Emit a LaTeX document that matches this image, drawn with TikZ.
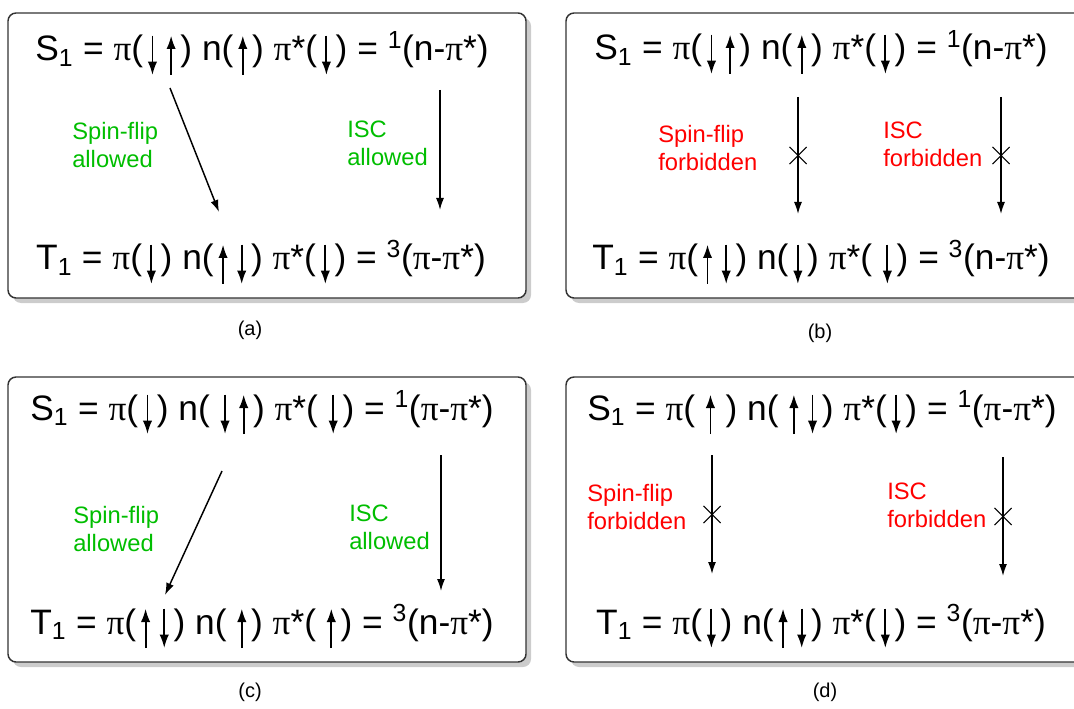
\documentclass[tikz,border=0pt]{standalone}
\usepackage{fontspec}
\setmainfont{Liberation Sans}
\newfontfamily\grk{Liberation Serif}
\usetikzlibrary{arrows.meta,shapes.misc,calc}
\definecolor{okgreen}{RGB}{0,190,0}
\definecolor{nored}{RGB}{255,0,0}
\tikzset{spin/.style={line width=1.4pt,-{Latex[length=10pt,width=7pt]}}}
\newcommand{\spinup}{\hspace{3.5pt}\tikz[baseline=0pt,x=1pt,y=1pt]\draw[spin] (0,-10.5) -- (0,19);\hspace{3.5pt}}
\newcommand{\spindn}{\hspace{3.5pt}\tikz[baseline=0pt,x=1pt,y=1pt]\draw[spin] (0,19) -- (0,-10.5);\hspace{3.5pt}}
\newcommand{\pii}{{\grk π}}
\begin{document}
\begin{tikzpicture}[x=0.75pt,y=-0.75pt,
	panel/.style={draw=black!80,line width=1.1pt,fill=white,rounded corners=6pt},
	shade/.style={fill=black!20,rounded corners=6pt},
	state/.style={anchor=base,inner sep=0pt,font=\fontsize{26.5}{30}\selectfont},
	note/.style={anchor=west,align=left,inner sep=0pt,font=\fontsize{17.8}{21}\selectfont},
	allowed/.style={note,text=okgreen},
	forbidden/.style={note,text=nored},
	trans/.style={line width=1.1pt,-{Latex[length=9pt,width=6pt]}},
	nogo/.style={cross out,draw,line width=0.8pt,minimum size=12pt,inner sep=0pt},
	tag/.style={font=\fontsize{15}{18}\selectfont}]
	\clip (0,0) rectangle (1074,709);
	% four panels with shadow
	\foreach \x/\y in {8/13,566/13,8/377,566/377}{
		\fill[shade] (\x+5,\y+5) rectangle ++(518,285);
		\draw[panel] (\x,\y) rectangle ++(518,285);}
	% (a)
	\node[state] (sa) at (262,61) {S\textsubscript{1} = \pii(\spindn\spinup) n(\spinup) \pii*(\spindn) = \textsuperscript{1}(n-\pii*)};
	\node[state] (ta) at (261,270) {T\textsubscript{1} = \pii(\spindn) n(\spinup\spindn) \pii*(\spindn) = \textsuperscript{3}(\pii-\pii*)};
	\node[allowed] (fa) at (72,145) {Spin-flip\\allowed};
	\node[allowed] (ia) at (347,143) {ISC\\allowed};
	% (b)
	\node[state] (sb) at (821,60) {S\textsubscript{1} = \pii(\spindn\spinup) n(\spinup) \pii*(\spindn) = \textsuperscript{1}(n-\pii*)};
	\node[state] (tb) at (821,270) {T\textsubscript{1} = \pii(\spinup\spindn) n(\spindn) \pii*(\,\spindn) = \textsuperscript{3}(n-\pii*)};
	\node[forbidden] (fb) at (658,148) {Spin-flip\\forbidden};
	\node[forbidden] (ib) at (883,144) {ISC\\forbidden};
	% (c)
	\node[state] (sc) at (262,420) {S\textsubscript{1} = \pii(\spindn) n(\,\spindn\spinup) \pii*(\,\spindn) = \textsuperscript{1}(\pii-\pii*)};
	\node[state] (tc) at (262,634) {T\textsubscript{1} = \pii(\spinup\spindn) n(\,\spinup) \pii*(\,\spinup) = \textsuperscript{3}(n-\pii*)};
	\node[allowed] (fc) at (73,529) {Spin-flip\\allowed};
	\node[allowed] (ic) at (349,527) {ISC\\allowed};
	% (d)
	\node[state] (sd) at (822,420) {S\textsubscript{1} = \pii(\,\spinup\,) n(\,\spinup\spindn) \pii*(\spindn) = \textsuperscript{1}(\pii-\pii*)};
	\node[state] (td) at (821,634) {T\textsubscript{1} = \pii(\spindn) n(\spinup\spindn) \pii*(\spindn) = \textsuperscript{3}(\pii-\pii*)};
	\node[forbidden] (fd) at (587,507) {Spin-flip\\forbidden};
	\node[forbidden] (id) at (887,505) {ISC\\forbidden};
	% transitions
	\foreach \n/\xa/\ya/\xb/\yb in {a1/170/88/219/212,a2/440/90/440/210,b1/798/97/798/214,b2/1001/97/1001/214,c1/222/471/165/595,c2/441/455/441/591,d1/712/455/712/574,d2/1003/457/1003/576}{
		\coordinate (\n s) at (\xa,\ya);
		\coordinate (\n e) at (\xb,\yb);
		\draw[trans] (\n s) -- (\n e);}
	\foreach \n in {b1,b2,d1,d2}{\node[nogo] (x\n) at ($(\n s)!.5!(\n e)$) {};}
	% captions
	\node[tag] (capa) at (250,330) {(a)};
	\node[tag] (capb) at (820,333) {(b)};
	\node[tag] (capc) at (250,692) {(c)};
	\node[tag] (capd) at (825,692) {(d)};
\end{tikzpicture}
\end{document}
